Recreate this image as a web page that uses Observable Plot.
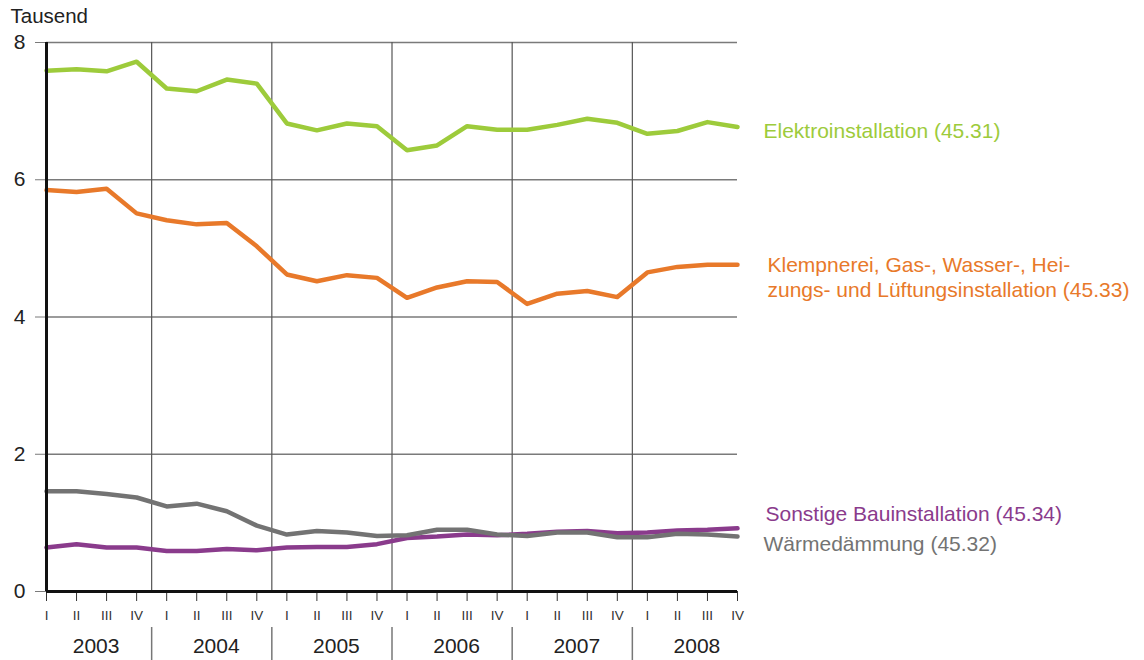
<!DOCTYPE html>
<html><head><meta charset="utf-8">
<script src="https://cdn.jsdelivr.net/npm/d3@7"></script>
<script src="https://cdn.jsdelivr.net/npm/@observablehq/plot@0.6"></script>
<style>body{margin:0;background:#fff}</style>
</head><body><div id="chart"></div>
<script>
const years = [2003, 2004, 2005, 2006, 2007, 2008];
const quarters = ["I", "II", "III", "IV"];
const yTicks = [0, 2, 4, 6, 8];

const elektro   = [7.59, 7.61, 7.58, 7.72, 7.33, 7.29, 7.46, 7.40, 6.82, 6.72, 6.82, 6.78, 6.43, 6.50, 6.78, 6.73, 6.73, 6.80, 6.89, 6.83, 6.67, 6.71, 6.84, 6.77];
const klempner  = [5.85, 5.82, 5.87, 5.51, 5.41, 5.35, 5.37, 5.03, 4.62, 4.52, 4.61, 4.57, 4.28, 4.43, 4.52, 4.51, 4.19, 4.34, 4.38, 4.29, 4.65, 4.73, 4.76, 4.76];
const sonstige  = [0.64, 0.69, 0.64, 0.64, 0.59, 0.59, 0.62, 0.60, 0.64, 0.65, 0.65, 0.69, 0.78, 0.80, 0.83, 0.82, 0.84, 0.87, 0.88, 0.85, 0.86, 0.89, 0.90, 0.92];
const waerme    = [1.46, 1.46, 1.42, 1.37, 1.24, 1.28, 1.17, 0.96, 0.83, 0.88, 0.86, 0.81, 0.82, 0.90, 0.90, 0.83, 0.81, 0.86, 0.86, 0.79, 0.79, 0.84, 0.83, 0.80];

const seriesNames = ["Elektroinstallation (45.31)", "Klempnerei, Gas-, Wasser-, Hei-\nzungs- und Lüftungsinstallation (45.33)", "Sonstige Bauinstallation (45.34)", "Wärmedämmung (45.32)"];
const seriesValues = [elektro, klempner, sonstige, waerme];
const seriesColors = ["#9dcb3b", "#e8792a", "#8a3b8c", "#737373"];
const labelY = [6.72, 4.59, 1.147, 0.704];
const labelDx = [26, 30, 28, 26];

const nQ = years.length * quarters.length;
const qIndex = d3.range(nQ);
const rows = seriesValues.flatMap((vals, s) => vals.map((v, i) => ({series: seriesNames[s], q: i, value: v})));
const yearCenters = years.map((y, k) => k * 4 + 1.5);
const yearSeps = years.slice(1).map((y, k) => k * 4 + 3.5);

const font = "'Liberation Sans', Arial, sans-serif";
const drawOrder = [2, 3, 1, 0];

const chart = Plot.plot({
  width: 1144, height: 660,
  marginLeft: 46, marginRight: 407, marginTop: 42, marginBottom: 69,
  style: {fontFamily: font, background: "#fff", color: "#222", overflow: "visible"},
  x: {domain: [0, nQ - 1]},
  y: {domain: [0, 8]},
  marks: [
    Plot.ruleY(yTicks.filter(d => d > 0), {stroke: "#7a7a7a", strokeWidth: 1.5}),
    Plot.ruleX(yearSeps, {y1: 0, y2: 8, stroke: "#555", strokeWidth: 1.2}),
    Plot.axisY({ticks: yTicks, tickSize: 11, tickPadding: 10, fontSize: 21, stroke: "#7a7a7a", fill: "#222", label: null, tickFormat: d => String(d)}),
    Plot.axisX({ticks: qIndex, tickSize: 10, tickPadding: 9, fontSize: 13.5, fill: "#333", tickFormat: i => quarters[i % 4], label: null, stroke: "#333"}),
    Plot.axisX({ticks: yearCenters, tickSize: 0, tickPadding: 47, fontSize: 21, fill: "#222", dx: 4.5, tickFormat: (d, k) => String(years[k]), label: null}),
    Plot.axisX({ticks: yearSeps, tickSize: 34, dy: 36, tickFormat: () => "", label: null, stroke: "#777", strokeWidth: 1.5}),
    ...drawOrder.map(s => Plot.line(rows.filter(r => r.series === seriesNames[s]), {x: "q", y: "value", stroke: seriesColors[s], strokeWidth: 4.5})),
    Plot.ruleX([0], {y1: 0, y2: 8, stroke: "#111", strokeWidth: 3}),
    Plot.ruleY([0], {x1: 0, x2: nQ - 1, stroke: "#111", strokeWidth: 3}),
    ...seriesNames.map((n, s) => Plot.text([n], {x: nQ - 1, y: labelY[s], text: d => d, fill: seriesColors[s], dx: labelDx[s], textAnchor: "start", fontSize: 21, lineHeight: 1.2})),
    Plot.text(["Tausend"], {frameAnchor: "top-left", dx: -36, dy: -26, textAnchor: "start", lineAnchor: "middle", fontSize: 20.5, fill: "#222"})
  ]
});
document.getElementById("chart").appendChild(chart);
</script>
</body></html>
